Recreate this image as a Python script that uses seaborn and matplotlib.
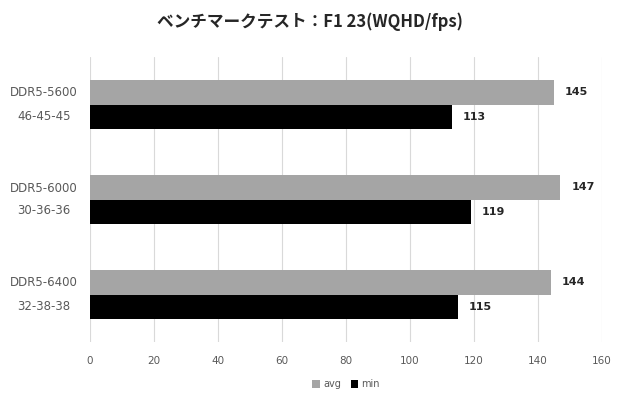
import pandas as pd
import matplotlib.pyplot as plt
import seaborn as sns

# データ
configs = ["DDR5-5600\n46-45-45", "DDR5-6000\n30-36-36", "DDR5-6400\n32-38-38"]
avg_fps = [145, 147, 144]
min_fps = [113, 119, 115]
series = ["avg", "min"]
colors = ["#A5A5A5", "#000000"]
x_ticks = [0, 20, 40, 60, 80, 100, 120, 140, 160]

df = pd.DataFrame({
    "config": configs * 2,
    "fps": avg_fps + min_fps,
    "series": [series[0]] * 3 + [series[1]] * 3,
})

sns.set_style("white")
plt.rcParams["font.family"] = ["DejaVu Sans", "Noto Sans CJK JP"]

fig = plt.figure(figsize=(6.2, 4), dpi=100)
ax = fig.add_axes([90 / 620, 1 - 342 / 400, 512 / 620, 285 / 400])

sns.barplot(data=df, y="config", x="fps", hue="series", palette=colors,
            orient="h", width=0.52, ax=ax, saturation=1, linewidth=0)

for c in ax.containers:
    ax.bar_label(c, fmt="%d", padding=8, fontsize=8, fontweight="bold")

ax.set_xlim(0, 160)
ax.set_xticks(x_ticks)
ax.xaxis.grid(True, color="#D9D9D9", linewidth=0.8)
ax.set_axisbelow(True)
for s in ax.spines.values():
    s.set_visible(False)
ax.tick_params(axis="both", length=0, colors="#595959", labelsize=7.5)
ax.tick_params(axis="x", pad=10)
ax.tick_params(axis="y", labelsize=8.5)
for t in ax.get_yticklabels():
    t.set_horizontalalignment("center")
    t.set_verticalalignment("center")
    t.set_linespacing(2.0)
    t.set_x(-0.08)
ax.set_xlabel("")
ax.set_ylabel("")

ax.legend(loc="upper center", bbox_to_anchor=(0.5, -0.1), ncol=2, frameon=False,
          fontsize=7, handlelength=0.8, handleheight=0.8, handletextpad=0.3,
          columnspacing=1.0, labelcolor="#595959")

fig.suptitle("ベンチマークテスト：F1 23(WQHD/fps)", y=0.97, fontsize=12,
             fontweight="bold", family=["Noto Sans CJK JP", "DejaVu Sans"])

plt.savefig("out.png", dpi=100)
